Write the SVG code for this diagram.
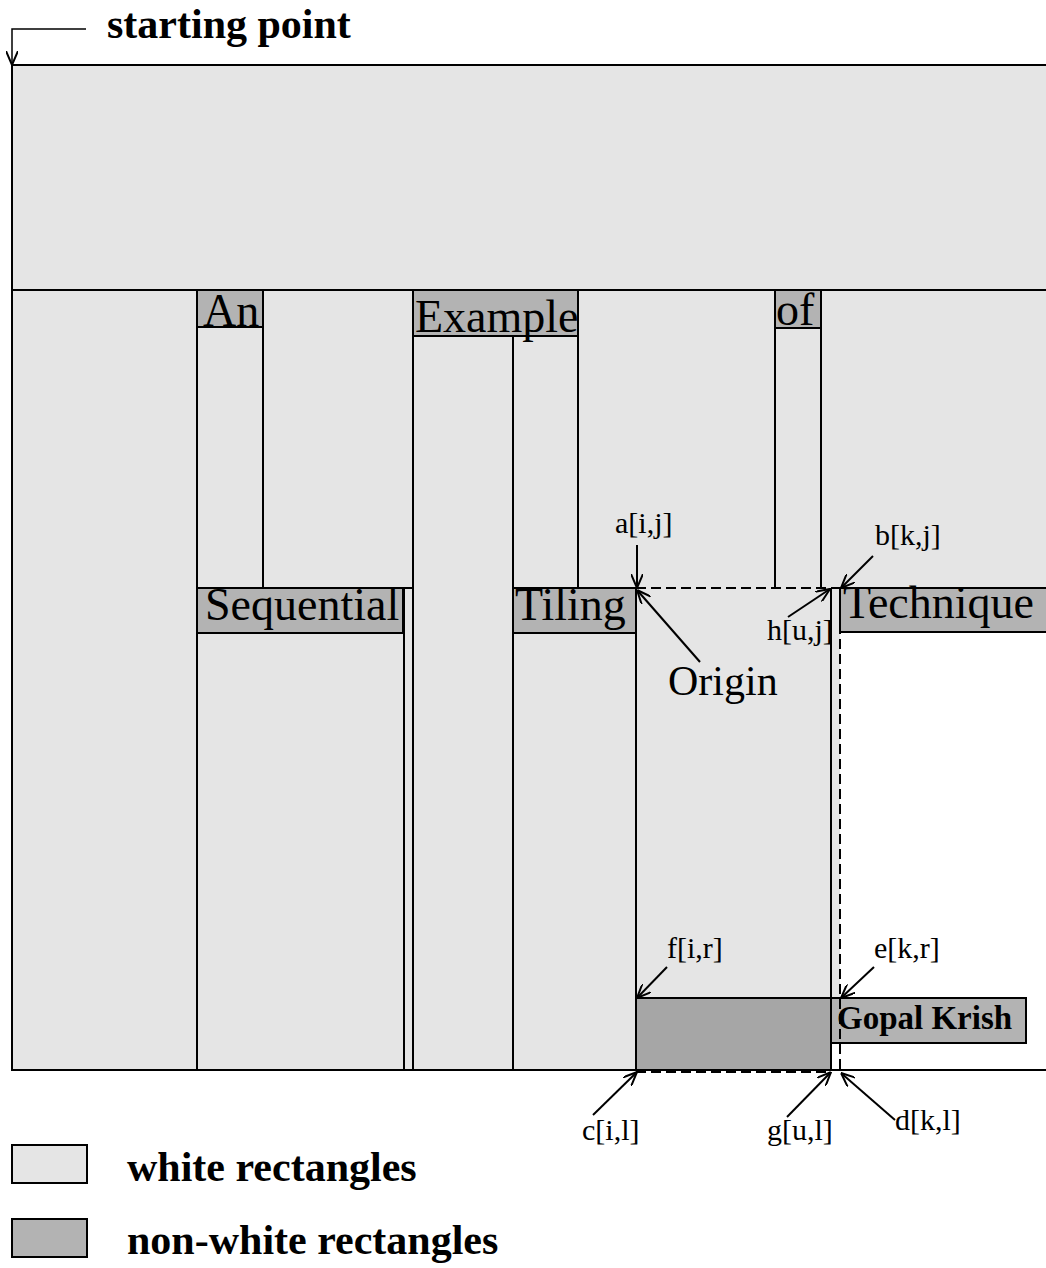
<svg xmlns="http://www.w3.org/2000/svg" width="1046" height="1268" viewBox="0 0 1046 1268">
  <style>
    .ln { stroke: #000; stroke-width: 2; fill: none; }
    .dash { stroke: #000; stroke-width: 2; fill: none; stroke-dasharray: 10 5; }
    .lab { fill: #b3b3b3; stroke: #000; stroke-width: 2; }
    .word { font-family: "Liberation Serif", "Times New Roman", serif; font-size: 46px; fill: #000; }
    .pt { font-family: "Liberation Serif", "Times New Roman", serif; font-size: 30px; fill: #000; }
    .bold { font-family: "Liberation Serif", "Times New Roman", serif; font-weight: bold; font-size: 42px; fill: #000; }
    .arr { stroke: #000; stroke-width: 2; fill: none; marker-end: url(#v); }
  </style>
  <defs>
    <marker id="v" viewBox="0 0 14 12" refX="14" refY="6" markerWidth="14" markerHeight="12" markerUnits="userSpaceOnUse" orient="auto">
      <path d="M0,0 L14,6 L0,12" fill="none" stroke="#000" stroke-width="2"/>
    </marker>
  </defs>
  <rect width="1046" height="1268" fill="#fff"/>

  <!-- page area with free space -->
  <g id="page">
    <rect x="12" y="65" width="1040" height="1005" fill="#e5e5e5"/>
    <rect x="840" y="633" width="210" height="437" fill="#fff"/>
    <rect x="831" y="1043" width="12" height="27" fill="#fff"/>
    <path class="ln" d="M1050,65 H12 V1070 H1050 M12,290 H1050"/>
  </g>

  <!-- white rectangle boundaries -->
  <g id="partition">
    <path class="ln" d="M197,290 V1070 M263,290 V588 M197,588 H413 M404,588 V1070 M413,290 V1070 M513,336 V1070 M578,336 V588 M775,290 V588 M821,290 V588 M636,588 V1070 M831,588 V1070"/>
  </g>

  <!-- placed word rectangles -->
  <g id="w-an"><rect class="lab" x="197" y="290" width="66" height="37"/><text class="word" x="203" y="326">An</text></g>
  <g id="w-example"><rect class="lab" x="413" y="290" width="165" height="46"/><text class="word" x="415" y="332">Example</text></g>
  <g id="w-of"><rect class="lab" x="775" y="290" width="46" height="38"/><text class="word" x="776" y="325">of</text></g>
  <g id="w-sequential"><rect class="lab" x="197" y="588" width="206" height="45"/><text class="word" x="205" y="620">Sequential</text></g>
  <g id="w-tiling"><rect class="lab" x="513" y="588" width="123" height="45"/><text class="word" x="515" y="620">Tiling</text></g>
  <g id="w-technique"><rect class="lab" x="840" y="588" width="212" height="44"/><text class="word" x="843" y="618">Technique</text></g>
  <g id="w-gopal"><rect x="636" y="998" width="195" height="72" fill="#a6a6a6" stroke="#000" stroke-width="2"/><rect class="lab" x="831" y="998" width="195" height="45"/><text class="bold" x="837" y="1029" style="font-size:33px">Gopal Krish</text></g>

  <!-- candidate region outlines -->
  <g id="region">
    <path class="dash" d="M636,588 H840 V1070 M636,998 H840 M636,1072 H831"/>
  </g>

  <!-- corner pointers -->
  <g id="connectors">
    <path d="M86,29 H12 V65" stroke="#000" stroke-width="1.5" fill="none" marker-end="url(#v)"/>
    <path class="arr" d="M637,545 L637,588"/>
    <path class="arr" d="M700,662 L637,590"/>
    <path class="arr" d="M873,556 L841,588"/>
    <path class="arr" d="M788,617 L830,589"/>
    <path class="arr" d="M667,967 L637,998"/>
    <path class="arr" d="M874,967 L841,998"/>
    <path class="arr" d="M593,1115 L637,1072"/>
    <path class="arr" d="M787,1117 L831,1072"/>
    <path class="arr" d="M895,1120 L841,1073"/>
  </g>

  <!-- point labels -->
  <g id="labels">
    <text class="pt" x="615" y="533">a[i,j]</text>
    <text class="pt" x="875" y="545">b[k,j]</text>
    <text class="pt" x="767" y="640">h[u,j]</text>
    <text class="word" x="668" y="695" style="font-size:42px">Origin</text>
    <text class="pt" x="667" y="958">f[i,r]</text>
    <text class="pt" x="874" y="958">e[k,r]</text>
    <text class="pt" x="582" y="1140">c[i,l]</text>
    <text class="pt" x="767" y="1140">g[u,l]</text>
    <text class="pt" x="895" y="1130">d[k,l]</text>
    <text class="bold" x="107" y="38">starting point</text>
  </g>

  <!-- legend -->
  <g id="legend">
    <rect x="12" y="1145" width="75" height="38" fill="#e5e5e5" stroke="#000" stroke-width="2"/>
    <text class="bold" x="127" y="1181">white rectangles</text>
    <rect x="12" y="1219" width="75" height="38" fill="#b3b3b3" stroke="#000" stroke-width="2"/>
    <text class="bold" x="127" y="1254">non-white rectangles</text>
  </g>
</svg>
